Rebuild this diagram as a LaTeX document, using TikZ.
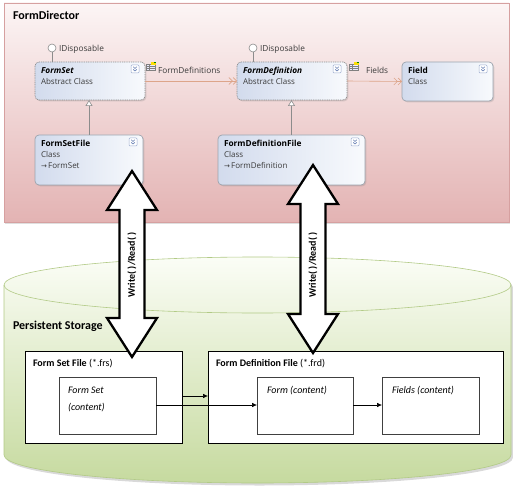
\documentclass[tikz,border=0pt]{standalone}
\usepackage{fontspec}
\setmainfont{Carlito}
\newfontfamily\symfont{DejaVu Sans}
\newfontfamily\uifont{Open Sans}
\usetikzlibrary{arrows.meta,shadows,calc}
\definecolor{pinkTop}{HTML}{FCF5F5}
\definecolor{pinkBot}{HTML}{E3B3B3}
\definecolor{pinkBorder}{HTML}{D6A0A0}
\definecolor{classL}{HTML}{D2DBED}
\definecolor{classR}{HTML}{F8FAFD}
\definecolor{boxBorder}{HTML}{9CA4AE}
\definecolor{assocCol}{HTML}{DDA58A}
\definecolor{greenTop}{HTML}{FBFDF6}
\definecolor{greenBot}{HTML}{C6DA9F}
\definecolor{greenBorder}{HTML}{B2CA86}
\definecolor{lolliCol}{HTML}{8C8C8C}
\definecolor{subText}{HTML}{3A3A3A}
\definecolor{iconBlue}{HTML}{5E78B0}
\newcommand\rwArrow[3]{%
  \draw[bigarrow] (#1,#2) -- (#1+25,#2+39) -- (#1+12.5,#2+39) -- (#1+12.5,#3-39)
    -- (#1+25,#3-39) -- (#1,#3) -- (#1-25,#3-39) -- (#1-12.5,#3-39)
    -- (#1-12.5,#2+39) -- (#1-25,#2+39) -- cycle;}
\begin{document}
\begin{tikzpicture}[x=1pt,y=-1pt,
  every node/.style={inner sep=0pt, outer sep=0pt},
  classbox/.style={draw=boxBorder, rounded corners=4pt, left color=classL, right color=classR,
    line width=0.7pt, anchor=north west,
    drop shadow={shadow xshift=1.3pt,shadow yshift=-1.3pt,opacity=0.25}},
  abstractbox/.style={classbox, dash pattern=on 1pt off 0.8pt, draw=gray!90},
  ctitle/.style={anchor=base west, font=\uifont\bfseries\fontsize{8.3}{10}\selectfont},
  csub/.style={anchor=base west, text=subText, font=\uifont\fontsize{8}{10}\selectfont},
  lolli/.style={circle, draw=lolliCol, fill=white, line width=0.6pt, minimum size=8pt},
  lollitext/.style={anchor=west, text=subText, font=\uifont\fontsize{8.3}{10}\selectfont},
  assoc/.style={draw=assocCol, line width=0.6pt,
    -{Straight Barb[length=3.5pt,width=7pt] Straight Barb[length=3.5pt,width=7pt]}},
  inherit/.style={draw=lolliCol, line width=0.6pt, -{Triangle[open,length=6pt,width=7pt,fill=white]}},
  sbox/.style={draw=black, fill=white, line width=0.7pt, anchor=north west},
  ibox/.style={draw=black!75, fill=white, line width=0.6pt, anchor=north west},
  slabel/.style={anchor=base west, font=\fontsize{10}{12}\selectfont},
  itext/.style={anchor=base west, font=\itshape\fontsize{10}{12}\selectfont},
  sarrow/.style={draw=black, line width=0.6pt, -{Latex[length=5pt,width=4.5pt]}},
  bigarrow/.style={draw=black, fill=white, line width=2.3pt, line join=miter},
  expicon/.pic={
    \draw[rounded corners=1pt, fill=white, draw=iconBlue!60, line width=0.5pt] (0,0) rectangle (8,8);
    \draw[iconBlue, line width=0.6pt] (2.2,1.8) -- (4,3.4) -- (5.8,1.8);
    \draw[iconBlue, line width=0.6pt] (2.2,4.4) -- (4,6) -- (5.8,4.4);},
  associcon/.pic={
    \draw[fill=blue!8, draw=gray, line width=0.4pt] (0,2) rectangle (9,8);
    \draw[gray, line width=0.3pt] (0,4) -- (9,4) (0,6) -- (9,6) (3,2) -- (3,8);
    \fill[yellow!80!orange] (5,0) rectangle (10,3);
    \fill[green!50!black] (8,0) rectangle (10,1.5);}
]
\useasboundingbox (0,0) rectangle (513,486);

% ---------- FormDirector area ----------
\draw[draw=pinkBorder, top color=pinkTop, bottom color=pinkBot, line width=0.6pt,
  drop shadow={shadow xshift=1pt,shadow yshift=-1.5pt,opacity=0.25}]
  (4,3) rectangle (509,222);
\node[anchor=base west, font=\bfseries\fontsize{12}{14}\selectfont] (dirT) at (13,20) {FormDirector};

% ---------- Persistent storage cylinder ----------
\path[draw=greenBorder, top color=greenTop, bottom color=greenBot, line width=0.6pt,
  drop shadow={shadow xshift=2pt,shadow yshift=-2.5pt,opacity=0.3}]
  (4,285) -- (4,455) arc[start angle=180,end angle=360,x radius=253.5pt,y radius=28pt]
  -- (511,285) arc[start angle=0,end angle=180,x radius=253.5pt,y radius=28pt] -- cycle;
\draw[greenBorder, line width=0.6pt] (4,285) arc[start angle=180,end angle=360,x radius=253.5pt,y radius=28pt];
\node[anchor=base west, font=\bfseries\fontsize{12}{14}\selectfont] (psT) at (13,329) {Persistent Storage};

% ---------- class boxes ----------
\node[abstractbox, minimum width=110pt, minimum height=38pt] (fs) at (35,62) {};
\node[abstractbox, minimum width=110pt, minimum height=38pt] (fd) at (237,62) {};
\node[classbox, minimum width=91pt, minimum height=39pt] (fld) at (402,62) {};
\node[classbox, minimum width=108pt, minimum height=50pt] (fsf) at (35,135) {};
\node[classbox, minimum width=147pt, minimum height=50pt] (fdf) at (218,135) {};

\pic at ($(fs.north east)+(-14,3)$) {expicon};
\pic at ($(fd.north east)+(-14,3)$) {expicon};
\pic at ($(fld.north east)+(-14,3)$) {expicon};
\pic at ($(fsf.north east)+(-14,3)$) {expicon};
\pic at ($(fdf.north east)+(-14,3)$) {expicon};

\node[ctitle] (fsT) at ($(fs.north west)+(6,12)$) {\itshape FormSet};
\node[csub] (fsS) at ($(fs.north west)+(6,23)$) {Abstract Class};
\node[ctitle] (fdT) at ($(fd.north west)+(6,12)$) {\itshape FormDefinition};
\node[csub] (fdS) at ($(fd.north west)+(6,23)$) {Abstract Class};
\node[ctitle] (fldT) at ($(fld.north west)+(6,12)$) {Field};
\node[csub] (fldS) at ($(fld.north west)+(6,23)$) {Class};
\node[ctitle] (fsfT) at ($(fsf.north west)+(6,12)$) {FormSetFile};
\node[csub] (fsfS) at ($(fsf.north west)+(6,23)$) {Class};
\node[csub] (fsfB) at ($(fsf.north west)+(6,34)$) {{\symfont\fontsize{7}{8}\selectfont →}\,FormSet};
\node[ctitle] (fdfT) at ($(fdf.north west)+(6,12)$) {FormDefinitionFile};
\node[csub] (fdfS) at ($(fdf.north west)+(6,23)$) {Class};
\node[csub] (fdfB) at ($(fdf.north west)+(6,34)$) {{\symfont\fontsize{7}{8}\selectfont →}\,FormDefinition};

% lollipops
\node[lolli] (ld1) at (52,48) {};
\draw[lolliCol, line width=0.6pt] (ld1.south) -- (ld1.south |- fs.north);
\node[lollitext] (ld1T) at (59,49) {IDisposable};
\node[lolli] (ld2) at (253,48) {};
\draw[lolliCol, line width=0.6pt] (ld2.south) -- (ld2.south |- fd.north);
\node[lollitext] (ld2T) at (260,49) {IDisposable};

% associations
\draw[assoc] (fs.east) -- (fd.west);
\draw[assoc] (fd.east) -- (fld.west);
\pic at (146,62) {associcon};
\pic at (349,62) {associcon};
\node[lollitext] (a1T) at (158,70) {FormDefinitions};
\node[lollitext] (a2T) at (366,70) {Fields};

% inheritance
\draw[inherit] (fsf.north) -- (fsf.north |- fs.south);
\draw[inherit] (fdf.north) -- (fdf.north |- fd.south);

% ---------- storage files ----------
\node[sbox, minimum width=157pt, minimum height=92pt] (fsfile) at (25,351) {};
\node[sbox, minimum width=295pt, minimum height=92pt] (fdfile) at (208,351) {};
\node[ibox, minimum width=97pt, minimum height=57pt] (fsc) at (59,377) {};
\node[ibox, minimum width=96pt, minimum height=57pt] (fmc) at (257,377) {};
\node[ibox, minimum width=97pt, minimum height=57pt] (flc) at (382,377) {};

\node[slabel] (fsfileT) at (33,366) {\textbf{Form Set File} (*.frs)};
\node[slabel] (fdfileT) at (216,366) {\textbf{Form Definition File} (*.frd)};
\node[itext] (fscT1) at (68,393) {Form Set};
\node[itext] (fscT2) at (68,410) {(content)};
\node[itext] (fmcT) at (267,393) {Form (content)};
\node[itext] (flcT) at (392,393) {Fields (content)};

\coordinate (c1) at (fsfile.east |- 0,396);
\coordinate (c2) at (fdfile.west |- 0,396);
\draw[sarrow] (c1) -- (c2);
\coordinate (c3) at (fsc.east |- 0,405);
\coordinate (c4) at (fmc.west |- 0,405);
\draw[sarrow] (c3) -- (c4);
\coordinate (c5) at (fmc.east |- 0,405);
\coordinate (c6) at (flc.west |- 0,405);
\draw[sarrow] (c5) -- (c6);

% ---------- big read/write arrows ----------
\rwArrow{132}{171}{357}
\rwArrow{313}{165}{353}
\node[rotate=90, font=\bfseries\fontsize{10}{12}\selectfont] (rw1) at (132,265) {Write( )/Read( )};
\node[rotate=90, font=\bfseries\fontsize{10}{12}\selectfont] (rw2) at (313,265) {Write( )/Read( )};
\end{tikzpicture}
\end{document}
